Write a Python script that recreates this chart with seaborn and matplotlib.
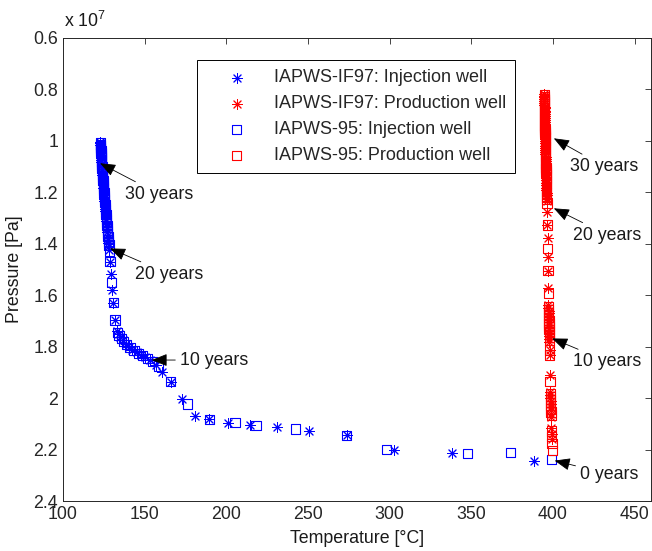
import numpy as np
import pandas as pd
import matplotlib
matplotlib.use("Agg")
import matplotlib.pyplot as plt
import seaborn as sns
from matplotlib.ticker import FixedLocator, FuncFormatter

# ---------------- data (pressure in units of 1e7 Pa, temperature in degC) ----------------
P_UNIT = 1e7

# IAPWS-IF97, injection well (asterisks, blue)
inj_if97_T = [388.6, 338.0, 302.7, 273.7, 250.8, 230.9, 214.5, 201.2, 189.6, 180.8,
              172.7, 166.0, 160.4, 157.0, 153.5, 150.5, 147.5, 145.0, 142.5, 140.3,
              138.4, 136.7, 135.2, 134.0, 133.0, 131.8, 130.8, 130.2, 129.2, 128.8,
              128.4,
              128.0, 127.8, 127.6, 127.5, 127.3, 127.1, 127.0, 126.8, 126.7, 126.5,
              126.4, 126.2, 126.1, 125.9, 125.8, 125.7, 125.5, 125.4, 125.3, 125.2,
              125.0, 124.9, 124.8, 124.7, 124.6, 124.5, 124.4, 124.3, 124.2, 124.1,
              124.0, 123.9, 123.8, 123.8, 123.7, 123.6, 123.5, 123.5, 123.4, 123.3,
              123.3, 123.2, 123.2, 123.1, 123.0, 123.0, 122.9, 122.9, 122.8]
inj_if97_P = [2.243, 2.215, 2.202, 2.144, 2.127, 2.114, 2.105, 2.096, 2.083, 2.070,
              2.005, 1.936, 1.897, 1.870, 1.853, 1.842, 1.832, 1.822, 1.812, 1.800,
              1.788, 1.776, 1.764, 1.752, 1.740, 1.696, 1.629, 1.580, 1.518, 1.470,
              1.425,
              1.410, 1.398, 1.387, 1.376, 1.365, 1.354, 1.343, 1.333, 1.322, 1.312,
              1.302, 1.292, 1.282, 1.272, 1.263, 1.253, 1.244, 1.235, 1.226, 1.217,
              1.208, 1.199, 1.190, 1.182, 1.173, 1.165, 1.157, 1.149, 1.141, 1.133,
              1.125, 1.118, 1.110, 1.103, 1.095, 1.088, 1.081, 1.074, 1.067, 1.060,
              1.054, 1.047, 1.041, 1.034, 1.028, 1.022, 1.016, 1.010, 1.004]

# IAPWS-95, injection well (squares, blue)
inj_95_T = [399.3, 374.2, 347.8, 298.2, 273.7, 242.5, 218.2, 205.3, 189.6, 176.1,
            166.0, 158.5, 155.0, 151.5, 148.5, 146.0, 143.5, 141.0, 139.0, 137.2,
            135.6, 134.3, 133.2, 131.8, 130.8, 129.8, 128.8, 128.5,
            128.1, 127.9, 127.7, 127.6, 127.4, 127.2, 127.1, 126.9, 126.8, 126.6,
            126.5, 126.3, 126.2, 126.0, 125.9, 125.8, 125.6, 125.5, 125.4, 125.3,
            125.1, 125.0, 124.9, 124.8, 124.7, 124.6, 124.5, 124.4, 124.3, 124.2,
            124.1, 124.0, 123.9, 123.9, 123.8, 123.7, 123.6, 123.6, 123.5, 123.4,
            123.4, 123.3, 123.3, 123.2, 123.1, 123.1, 123.0, 123.0]
inj_95_P = [2.238, 2.212, 2.215, 2.199, 2.144, 2.120, 2.105, 2.096, 2.083, 2.023,
            1.936, 1.875, 1.858, 1.845, 1.835, 1.826, 1.815, 1.804, 1.792, 1.780,
            1.768, 1.756, 1.745, 1.696, 1.629, 1.550, 1.470, 1.430,
            1.405, 1.393, 1.382, 1.371, 1.360, 1.349, 1.338, 1.328, 1.317, 1.307,
            1.297, 1.287, 1.277, 1.267, 1.258, 1.248, 1.239, 1.230, 1.221, 1.212,
            1.203, 1.194, 1.186, 1.177, 1.169, 1.161, 1.153, 1.145, 1.137, 1.129,
            1.121, 1.114, 1.106, 1.099, 1.092, 1.085, 1.078, 1.071, 1.064, 1.057,
            1.051, 1.044, 1.038, 1.031, 1.025, 1.019, 1.013, 1.007]

# IAPWS-IF97, production well (asterisks, red)
prod_if97_T = [399.3, 399.2, 399.0, 398.8, 398.7, 398.7, 398.6, 398.5, 398.5, 398.4,
               398.3, 398.3, 398.2, 398.0, 397.9, 397.8, 397.8, 397.7, 397.7, 397.6,
               397.6, 397.5, 397.5, 397.4, 397.4, 397.3, 397.3, 397.2, 397.2, 397.1,
               397.0, 396.9, 396.7, 396.5, 396.3,
               396.2, 396.2, 396.1, 396.1, 396.0, 396.0, 395.9, 395.9, 395.9, 395.8,
               395.8, 395.7, 395.7, 395.7, 395.6, 395.6, 395.5, 395.5, 395.5, 395.4,
               395.4, 395.4, 395.3, 395.3, 395.3, 395.2, 395.2, 395.2, 395.1, 395.1,
               395.1, 395.0, 395.0, 395.0, 395.0, 394.9, 394.9, 394.9, 394.9, 394.8,
               394.8, 394.8, 394.8, 394.7, 394.7, 394.7, 394.7, 394.6, 394.6, 394.6]
prod_if97_P = [2.160, 2.140, 2.118, 2.072, 2.060, 2.048, 2.036, 2.024, 2.012, 2.000,
               1.988, 1.976, 1.910, 1.832, 1.813, 1.781, 1.770, 1.759, 1.748, 1.737,
               1.726, 1.715, 1.704, 1.693, 1.682, 1.671, 1.660, 1.649, 1.638, 1.573,
               1.505, 1.450, 1.379, 1.327, 1.275,
               1.232, 1.222, 1.212, 1.202, 1.192, 1.182, 1.172, 1.163, 1.153, 1.144,
               1.134, 1.125, 1.115, 1.106, 1.097, 1.088, 1.079, 1.070, 1.061, 1.052,
               1.044, 1.035, 1.026, 1.018, 1.009, 1.001, 0.993, 0.984, 0.976, 0.968,
               0.960, 0.952, 0.944, 0.936, 0.928, 0.920, 0.912, 0.905, 0.897, 0.889,
               0.882, 0.874, 0.867, 0.859, 0.852, 0.845, 0.838, 0.831, 0.824, 0.817]

# IAPWS-95, production well (squares, red)
prod_95_T = [399.5, 399.4, 399.3, 399.1, 398.9, 398.8, 398.7, 398.6, 398.6, 398.5,
             398.4, 398.4, 398.2, 398.0, 397.9, 397.8, 397.8, 397.7, 397.7, 397.6,
             397.6, 397.5, 397.5, 397.4, 397.4, 397.3, 397.3, 397.2, 397.1, 397.0,
             396.8, 396.5, 396.3,
             396.2, 396.2, 396.1, 396.1, 396.0, 396.0, 395.9, 395.9, 395.9, 395.8,
             395.8, 395.7, 395.7, 395.7, 395.6, 395.6, 395.5, 395.5, 395.5, 395.4,
             395.4, 395.4, 395.3, 395.3, 395.3, 395.2, 395.2, 395.2, 395.1, 395.1,
             395.1, 395.0, 395.0, 395.0, 395.0, 394.9, 394.9, 394.9, 394.9, 394.8,
             394.8, 394.8, 394.8, 394.7, 394.7, 394.7, 394.7, 394.6, 394.6]
prod_95_P = [2.205, 2.176, 2.150, 2.128, 2.066, 2.054, 2.042, 2.030, 2.018, 2.006,
             1.994, 1.982, 1.936, 1.832, 1.813, 1.776, 1.765, 1.754, 1.743, 1.732,
             1.721, 1.710, 1.699, 1.688, 1.677, 1.666, 1.655, 1.644, 1.593, 1.505,
             1.418, 1.327, 1.243,
             1.228, 1.218, 1.208, 1.198, 1.188, 1.178, 1.168, 1.159, 1.149, 1.140,
             1.130, 1.121, 1.111, 1.102, 1.093, 1.084, 1.075, 1.066, 1.057, 1.048,
             1.040, 1.031, 1.022, 1.014, 1.005, 0.997, 0.989, 0.980, 0.972, 0.964,
             0.956, 0.948, 0.940, 0.932, 0.924, 0.916, 0.908, 0.901, 0.893, 0.885,
             0.878, 0.870, 0.863, 0.855, 0.848, 0.841, 0.834, 0.827, 0.820]

series_labels = ["IAPWS-IF97: Injection well", "IAPWS-IF97: Production well",
                 "IAPWS-95: Injection well", "IAPWS-95: Production well"]

# annotations: (text, tip T, tip P, text T, text P)
annot_labels = ["30 years", "20 years", "10 years", "30 years", "20 years", "10 years", "0 years"]
annot_tip_T = [122.7, 128.8, 154.3, 400.5, 400.5, 399.5, 401.0]
annot_tip_P = [1.087, 1.418, 1.852, 0.990, 1.262, 1.768, 2.243]
annot_txt_T = [138.0, 144.1, 171.6, 410.5, 412.5, 412.5, 416.6]
annot_txt_P = [1.207, 1.518, 1.852, 1.100, 1.366, 1.858, 2.296]

x_ticks = [100, 150, 200, 250, 300, 350, 400, 450]
y_ticks = [0.6, 0.8, 1.0, 1.2, 1.4, 1.6, 1.8, 2.0, 2.2, 2.4]

# ---------------- plotting ----------------
sns.set_theme(style="white")
plt.rcParams['font.family'] = ['Liberation Sans', 'DejaVu Sans']
plt.rcParams['mathtext.fontset'] = 'custom'
plt.rcParams['mathtext.rm'] = 'Liberation Sans'
plt.rcParams['mathtext.it'] = 'Liberation Sans'

FS = 12.8
W, H = 652, 551
fig = plt.figure(figsize=(W / 100, H / 100), dpi=100)
ax = fig.add_axes([63 / W, 50 / H, 588 / W, 463 / H])

def frame(T, P, lab):
    return pd.DataFrame({"T": T, "P": np.asarray(P) * P_UNIT, "series": lab})

ast = (8, 2, 0)
BLUE, RED = (0, 0, 1), (1, 0, 0)
d1 = frame(inj_if97_T, inj_if97_P, series_labels[0])
d2 = frame(prod_if97_T, prod_if97_P, series_labels[1])
d3 = frame(inj_95_T, inj_95_P, series_labels[2])
d4 = frame(prod_95_T, prod_95_P, series_labels[3])

sns.scatterplot(data=d1, x="T", y="P", marker=ast, color=BLUE, s=52,
                linewidth=0.7, label=series_labels[0], ax=ax)
sns.scatterplot(data=d2, x="T", y="P", marker=ast, color=RED, s=52,
                linewidth=0.7, label=series_labels[1], ax=ax)
sns.scatterplot(data=d3, x="T", y="P", marker="s", color=BLUE, facecolor="none",
                edgecolor=BLUE, s=44, linewidth=0.8, label=series_labels[2], ax=ax)
sns.scatterplot(data=d4, x="T", y="P", marker="s", color=RED, facecolor="none",
                edgecolor=RED, s=44, linewidth=0.8, label=series_labels[3], ax=ax)

for lab, tx, tp, sx, sp in zip(annot_labels, annot_tip_T, annot_tip_P, annot_txt_T, annot_txt_P):
    ax.annotate(lab, xy=(tx, tp * P_UNIT), xytext=(sx, sp * P_UNIT),
                ha="left", va="center", fontsize=FS, color="#1a1a1a",
                arrowprops=dict(arrowstyle="-|>,head_length=0.75,head_width=0.3",
                                color="black", lw=0.6, shrinkA=1, shrinkB=0))

ax.set_xlim(100, 460)
ax.set_ylim(2.4 * P_UNIT, 0.6 * P_UNIT)
ax.xaxis.set_major_locator(FixedLocator(x_ticks))
ax.yaxis.set_major_locator(FixedLocator([v * P_UNIT for v in y_ticks]))
ax.yaxis.set_major_formatter(FuncFormatter(lambda v, pos: f"{v / P_UNIT:g}"))
ax.xaxis.set_major_formatter(FuncFormatter(lambda v, pos: f"{v:g}"))
ax.tick_params(direction="in", length=4.5, width=0.6, top=True, right=True,
               labelsize=FS, colors="#262626", pad=3.5)
for sp in ax.spines.values():
    sp.set_color("#262626")
    sp.set_linewidth(0.7)

ax.set_xlabel("Temperature [°C]", fontsize=FS, color="#1a1a1a")
ax.set_ylabel("Pressure [Pa]", fontsize=FS, color="#1a1a1a")
ax.xaxis.set_label_coords(0.5, -0.062)
ax.yaxis.set_label_coords(-0.068, 0.5)

fig.text(64 / W, 1 - 21 / H, r"x 10$^{7}$", fontsize=FS, ha="left", va="center",
         color="#1a1a1a")

leg = ax.legend(loc="upper left", bbox_to_anchor=(0.228, 0.952), fontsize=13,
                frameon=True, fancybox=False, edgecolor="black", framealpha=1,
                borderpad=0.5, labelspacing=0.5, handlelength=3.4,
                handletextpad=0.37, borderaxespad=0, scatterpoints=1)
leg.get_frame().set_linewidth(0.7)

fig.savefig("out.png", dpi=100)
